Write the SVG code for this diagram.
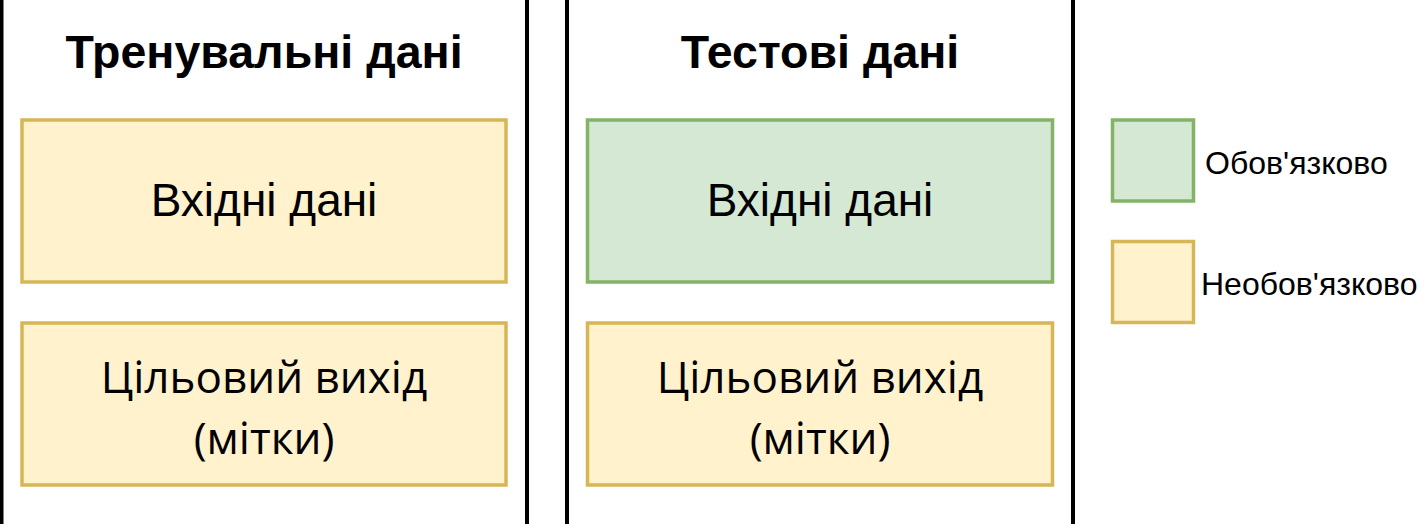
<svg xmlns="http://www.w3.org/2000/svg" width="1420" height="524" viewBox="0 0 1420 524">
<style>
.sep{stroke:#000;stroke-width:4;fill:none}
.opt{fill:#fff2cc;stroke:#d6b656;stroke-width:3.5}
.req{fill:#d5e8d4;stroke:#82b366;stroke-width:3.5}
.title{font-family:"Liberation Sans",Arial,sans-serif;font-weight:bold;font-size:46.5px;fill:#000;text-anchor:middle}
.lbl{font-family:"Liberation Sans",Arial,sans-serif;font-size:46px;fill:#000;text-anchor:middle}
.lbl2{font-family:"Open Sans","Liberation Sans",sans-serif;font-size:44px;fill:#000;text-anchor:middle}
.leg{font-family:"Liberation Sans",Arial,sans-serif;font-size:32px;fill:#000}
</style>
<rect width="1420" height="524" fill="#fff"/>
<g id="separators">
<line class="sep" x1="1.5" y1="0" x2="1.5" y2="524"/>
<line class="sep" x1="527" y1="0" x2="527" y2="524"/>
<line class="sep" x1="567" y1="0" x2="567" y2="524"/>
<line class="sep" x1="1073" y1="0" x2="1073" y2="524"/>
</g>
<g id="train-title"><text class="title" x="264" y="68">Тренувальні дані</text></g>
<g id="test-title"><text class="title" x="820" y="68">Тестові дані</text></g>
<g id="train-input">
<rect class="opt" x="22" y="120" width="484" height="162"/>
<text class="lbl" x="264" y="216">Вхідні дані</text>
</g>
<g id="train-target">
<rect class="opt" x="22" y="323" width="484" height="162"/>
<text class="lbl2" x="264" y="393">Цільовий вихід</text>
<text class="lbl2" x="264" y="454">(мітки)</text>
</g>
<g id="test-input">
<rect class="req" x="587.5" y="120" width="465" height="162"/>
<text class="lbl" x="820" y="216">Вхідні дані</text>
</g>
<g id="test-target">
<rect class="opt" x="587.5" y="323" width="465" height="162"/>
<text class="lbl2" x="820" y="393">Цільовий вихід</text>
<text class="lbl2" x="820" y="454">(мітки)</text>
</g>
<g id="legend-required">
<rect class="req" x="1112.5" y="120" width="81" height="81"/>
<text class="leg" x="1205" y="174">Обов'язково</text>
</g>
<g id="legend-optional">
<rect class="opt" x="1112.5" y="241.5" width="81" height="81"/>
<text class="leg" x="1201" y="295">Необов'язково</text>
</g>
<g id="connectors"/>
</svg>
